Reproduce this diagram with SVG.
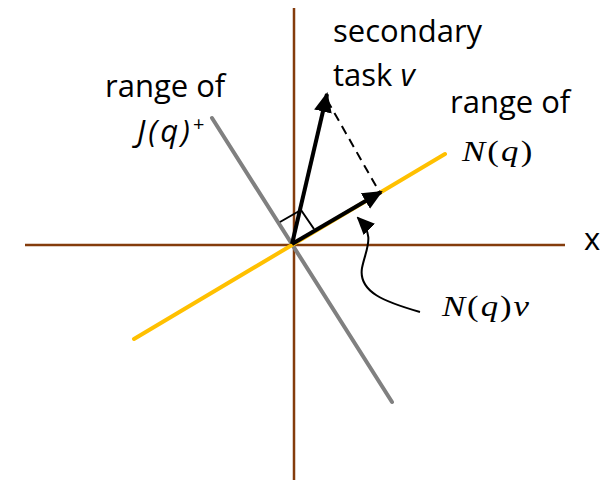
<svg xmlns="http://www.w3.org/2000/svg" width="600" height="481" viewBox="0 0 600 481">
<style>
.axis{stroke:#843c0c;stroke-width:2.5;fill:none}
.lbl{font-family:"Open Sans","Liberation Sans",sans-serif;font-size:31px;fill:#000}
.math{font-family:"Liberation Serif","Times New Roman",serif;font-size:29px;fill:#000}
.vec{stroke:#000;stroke-width:4;fill:none}
</style>
<defs>
<marker id="ah" markerUnits="userSpaceOnUse" markerWidth="20" markerHeight="18" refX="18" refY="9" orient="auto">
<path d="M0,0 L20,9 L0,18 Z" fill="#000"/>
</marker>
<marker id="ah2" markerUnits="userSpaceOnUse" markerWidth="18" markerHeight="16" refX="16" refY="8" orient="auto">
<path d="M0,0 L18,8 L0,16 Z" fill="#000"/>
</marker>
</defs>
<g id="axes">
<line class="axis" x1="294" y1="8" x2="294" y2="480"/>
<line class="axis" x1="25" y1="245" x2="565" y2="245"/>
</g>
<g id="range-J">
<line x1="212" y1="118" x2="392" y2="402" stroke="#808080" stroke-width="4" stroke-linecap="round"/>
</g>
<g id="range-N">
<line x1="134" y1="339" x2="445" y2="154" stroke="#ffc000" stroke-width="4" stroke-linecap="round"/>
</g>
<g id="connectors">
<polyline points="280,222 301,210 314,229" fill="none" stroke="#000" stroke-width="2"/>
<line class="vec" x1="292" y1="244" x2="327" y2="94" marker-end="url(#ah)"/>
<line class="vec" x1="292" y1="244" x2="381" y2="192" marker-end="url(#ah)"/>
<line x1="327" y1="100" x2="380" y2="193" stroke="#000" stroke-width="2" stroke-dasharray="9,6"/>
<path d="M420,312 C385,302 358,292 362,268 C366,248 376,236 358,218" fill="none" stroke="#000" stroke-width="2" marker-end="url(#ah2)"/>
</g>
<g id="labels">
<text class="lbl" x="333" y="42">secondary</text>
<text class="lbl" x="333" y="86">task <tspan font-style="italic">v</tspan></text>
<text class="lbl" x="105" y="97">range of</text>
<text class="lbl" x="137" y="142" font-style="italic" letter-spacing="3">J(q)<tspan font-style="normal" font-size="20" dy="-11" letter-spacing="0">+</tspan></text>
<text class="lbl" x="450" y="113">range of</text>
<text class="math" transform="translate(462,161) scale(1.2,1)" letter-spacing="1.8"><tspan font-style="italic">N</tspan>(<tspan font-style="italic">q</tspan>)</text>
<text class="math" transform="translate(442,316) scale(1.2,1)" letter-spacing="1.6"><tspan font-style="italic">N</tspan>(<tspan font-style="italic">q</tspan>)<tspan font-style="italic">v</tspan></text>
<text class="lbl" x="584" y="250">x</text>
</g>
</svg>
